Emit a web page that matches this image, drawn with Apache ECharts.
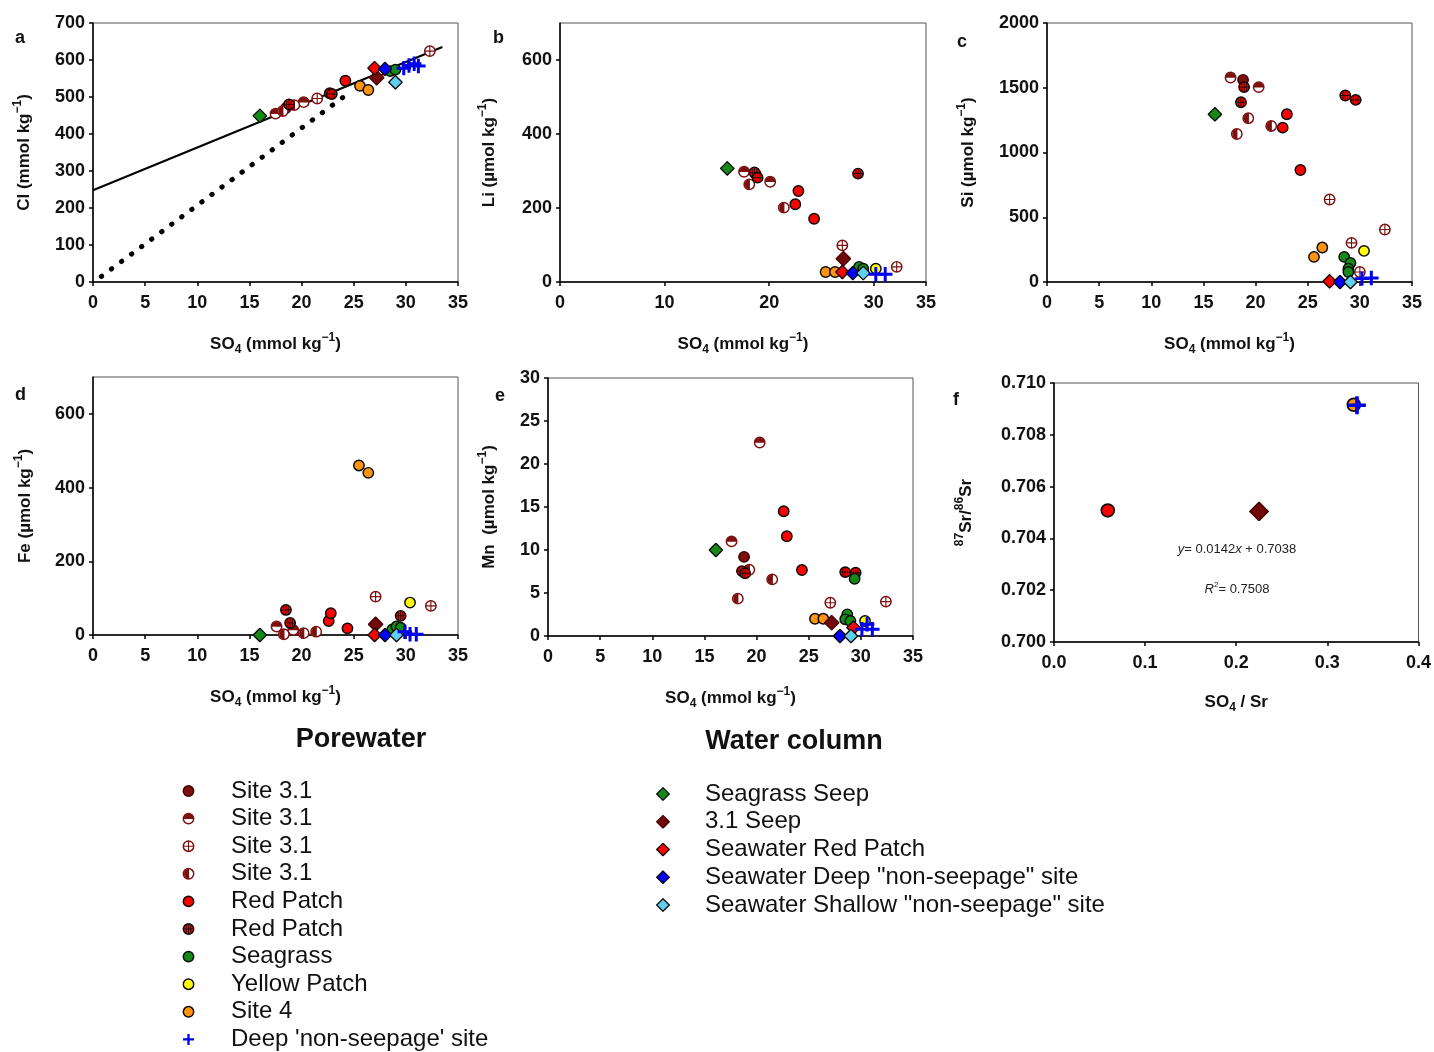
<!DOCTYPE html>
<html>
<head>
<meta charset="utf-8">
<script src="https://cdn.jsdelivr.net/npm/echarts/dist/echarts.min.js"></script>
<style>
html, body { margin: 0; padding: 0; background: #fff; }
#main { width: 1434px; height: 1052px; }
</style>
</head>
<body>
<div id="main"></div>
<script>
// ---- panel a : Cl vs SO4 (mmol/kg)
var clSite31 = [[18.5, 470]];
var clSite31Top = [[17.5, 455], [20.2, 486]];
var clSite31Cross = [[21.5, 496], [27.3, 560], [32.3, 624]];
var clSite31Left = [[18.2, 462], [19.3, 478]];
var clRedPatch = [[22.7, 510], [24.2, 544]];
var clRedPatchX = [[18.8, 480], [22.9, 508]];
var clSeagrass = [[28.5, 570], [29.0, 574]];
var clSite4 = [[25.6, 530], [26.4, 519]];
var clDeep = [[29.8, 578], [30.3, 585], [30.8, 590], [31.2, 584]];
var clSeagrassSeep = [[16.0, 449]];
var cl31Seep = [[27.2, 552]];
var clSwRedPatch = [[27.0, 578]];
var clSwDeep = [[28.0, 576]];
var clSwShallow = [[29.0, 540]];
var clMixLine = [[0, 248], [33.5, 635]];
var clDilutionLine = [[0.8, 15], [24.4, 508]];

// ---- panel b : Li vs SO4
var liSite31 = [[18.7, 292]];
var liSite31Top = [[17.6, 298], [20.1, 271]];
var liSite31Cross = [[27.0, 99], [32.2, 41]];
var liSite31Left = [[18.1, 264], [21.4, 201]];
var liRedPatch = [[22.8, 246], [22.5, 210], [24.3, 171]];
var liRedPatchX = [[18.6, 296], [18.9, 282], [28.5, 293]];
var liSeagrass = [[28.6, 41], [29.0, 36]];
var liYellow = [[30.2, 36]];
var liSite4 = [[25.4, 27], [26.3, 27]];
var liDeep = [[30.2, 21], [31.1, 21]];
var liSeagrassSeep = [[16.0, 307]];
var li31Seep = [[27.1, 63]];
var liSwRedPatch = [[27.0, 27]];
var liSwDeep = [[28.0, 24]];
var liSwShallow = [[29.0, 24]];

// ---- panel c : Si vs SO4
var siSite31 = [[18.8, 1561]];
var siSite31Top = [[17.6, 1579], [20.3, 1505]];
var siSite31Cross = [[27.1, 637], [32.4, 405], [29.2, 302], [30.0, 77]];
var siSite31Left = [[18.2, 1143], [19.3, 1265], [21.5, 1205]];
var siRedPatch = [[22.6, 1192], [23.0, 1295], [24.3, 865]];
var siRedPatchX = [[18.9, 1505], [18.6, 1388], [28.6, 1440], [29.6, 1406]];
var siSeagrass = [[28.5, 194], [29.1, 147], [28.9, 103], [28.9, 77]];
var siYellow = [[30.4, 240]];
var siSite4 = [[25.6, 194], [26.4, 266]];
var siDeep = [[30.2, 26], [31.1, 31]];
var siSeagrassSeep = [[16.1, 1295]];
var siSwRedPatch = [[27.1, 5]];
var siSwDeep = [[28.1, 0]];
var siSwShallow = [[29.1, 0]];

// ---- panel d : Fe vs SO4
var feSite31Top = [[17.6, 23], [19.2, 14]];
var feSite31Cross = [[27.1, 104], [32.4, 79]];
var feSite31Left = [[18.3, 2], [20.2, 5], [21.4, 9]];
var feRedPatch = [[22.6, 38], [22.8, 59], [24.4, 18]];
var feRedPatchX = [[18.5, 68], [18.9, 33], [29.5, 52]];
var feSeagrass = [[28.7, 15], [29.1, 23], [29.5, 20]];
var feYellow = [[30.4, 88]];
var feSite4 = [[25.5, 460], [26.4, 440]];
var feDeep = [[29.9, 9], [30.4, 2], [31.0, 2]];
var feSeagrassSeep = [[16.0, 0]];
var fe31Seep = [[27.1, 29]];
var feSwRedPatch = [[27.0, 0]];
var feSwDeep = [[28.0, 0]];
var feSwShallow = [[29.1, 0]];

// ---- panel e : Mn vs SO4
var mnSite31 = [[18.8, 9.2]];
var mnSite31Top = [[17.6, 11.0], [20.3, 22.5]];
var mnSite31Cross = [[27.07, 3.87], [32.4, 4.0]];
var mnSite31Left = [[19.3, 7.7], [18.2, 4.34], [21.5, 6.58]];
var mnRedPatch = [[22.6, 14.5], [22.9, 11.6], [24.35, 7.67]];
var mnRedPatchX = [[18.6, 7.55], [18.9, 7.3], [28.5, 7.43], [29.5, 7.36]];
var mnSeagrass = [[29.4, 6.66], [28.7, 2.52], [28.5, 1.94], [29.0, 1.74]];
var mnYellow = [[30.4, 1.74]];
var mnSite4 = [[25.6, 2.0], [26.4, 2.0]];
var mnDeep = [[30.1, 0.78], [31.1, 0.78], [30.6, 1.36]];
var mnSeagrassSeep = [[16.1, 10.0]];
var mn31Seep = [[27.2, 1.55]];
var mnSwRedPatch = [[29.3, 0.97]];
var mnSwDeep = [[28.0, 0]];
var mnSwShallow = [[29.05, 0]];

// ---- panel f : 87Sr/86Sr vs SO4/Sr
var srRedPatch = [[0.059, 0.70508]];
var srSite4 = [[0.329, 0.70916]];
var srDeep = [[0.3325, 0.70914]];
var sr31Seep = [[0.225, 0.70504]];

var legendLabels = {
    s31a: 'Site 3.1', s31b: 'Site 3.1', s31c: 'Site 3.1', s31d: 'Site 3.1',
    rp: 'Red Patch', rpx: 'Red Patch', sg: 'Seagrass', yp: 'Yellow Patch',
    s4: 'Site 4', deep: 'Deep \'non-seepage\' site',
    wSg: 'Seagrass Seep', w31: '3.1 Seep', wRp: 'Seawater Red Patch',
    wDeep: 'Seawater Deep "non-seepage" site', wShallow: 'Seawater Shallow "non-seepage" site'
};
var porewaterKeys = ['s31a', 's31b', 's31c', 's31d', 'rp', 'rpx', 'sg', 'yp', 's4', 'deep'];
var waterKeys = ['wSg', 'w31', 'wRp', 'wDeep', 'wShallow'];
var drawOrder = ['s31a', 's31b', 's31c', 's31d', 'rp', 'rpx', 'sg', 'yp', 's4',
    'wSg', 'w31', 'wRp', 'wDeep', 'wShallow', 'deep'];

var panelSets = [
    {s31a: clSite31, s31b: clSite31Top, s31c: clSite31Cross, s31d: clSite31Left, rp: clRedPatch, rpx: clRedPatchX,
        sg: clSeagrass, s4: clSite4, deep: clDeep, wSg: clSeagrassSeep, w31: cl31Seep, wRp: clSwRedPatch,
        wDeep: clSwDeep, wShallow: clSwShallow},
    {s31a: liSite31, s31b: liSite31Top, s31c: liSite31Cross, s31d: liSite31Left, rp: liRedPatch, rpx: liRedPatchX,
        sg: liSeagrass, yp: liYellow, s4: liSite4, deep: liDeep, wSg: liSeagrassSeep, w31: li31Seep, wRp: liSwRedPatch,
        wDeep: liSwDeep, wShallow: liSwShallow},
    {s31a: siSite31, s31b: siSite31Top, s31c: siSite31Cross, s31d: siSite31Left, rp: siRedPatch, rpx: siRedPatchX,
        sg: siSeagrass, yp: siYellow, s4: siSite4, deep: siDeep, wSg: siSeagrassSeep, wRp: siSwRedPatch,
        wDeep: siSwDeep, wShallow: siSwShallow},
    {s31b: feSite31Top, s31c: feSite31Cross, s31d: feSite31Left, rp: feRedPatch, rpx: feRedPatchX,
        sg: feSeagrass, yp: feYellow, s4: feSite4, deep: feDeep, wSg: feSeagrassSeep, w31: fe31Seep, wRp: feSwRedPatch,
        wDeep: feSwDeep, wShallow: feSwShallow},
    {s31a: mnSite31, s31b: mnSite31Top, s31c: mnSite31Cross, s31d: mnSite31Left, rp: mnRedPatch, rpx: mnRedPatchX,
        sg: mnSeagrass, yp: mnYellow, s4: mnSite4, deep: mnDeep, wSg: mnSeagrassSeep, w31: mn31Seep, wRp: mnSwRedPatch,
        wDeep: mnSwDeep, wShallow: mnSwShallow},
    {rp: srRedPatch, s4: srSite4, deep: srDeep, w31: sr31Seep}
];

// marker pictures
function svgSym(body) {
    return 'image://data:image/svg+xml;charset=utf-8,' + encodeURIComponent(
        '<svg xmlns="http://www.w3.org/2000/svg" width="40" height="40" viewBox="0 0 40 40">' + body + '</svg>');
}
var DR = '#7d0f0f';
function circ(fill, stroke) {
    return '<circle cx="20" cy="20" r="16" fill="' + fill + '" stroke="' + stroke + '" stroke-width="4.5"/>';
}
function ring(stroke) {
    return '<circle cx="20" cy="20" r="16" fill="none" stroke="' + stroke + '" stroke-width="4.5"/>';
}
function diamond(fill, stroke) {
    return svgSym('<polygon points="20,2 38,20 20,38 2,20" fill="' + fill + '" stroke="' + stroke + '" stroke-width="3.5"/>');
}
var symbols = {
    s31a: svgSym(circ(DR, '#3a0404')),
    s31b: svgSym('<circle cx="20" cy="20" r="16" fill="#fff"/><path d="M4 21 A16 16 0 0 1 36 21 Z" fill="' + DR + '"/>' + ring(DR)),
    s31c: svgSym(circ('#fff', DR) + '<path d="M20 4V36M4 20H36" stroke="' + DR + '" stroke-width="3.5"/>'),
    s31d: svgSym('<circle cx="20" cy="20" r="16" fill="#fff"/><path d="M22 4 A16 16 0 0 0 22 36 Z" fill="' + DR + '"/>' + ring(DR)),
    rp: svgSym(circ('#ff0000', '#0a0a0a')),
    rpx: svgSym(circ('#ff0000', '#0a0a0a') + '<path d="M20 5V35M5 20H35M13 8V32M27 8V32" stroke="#0a0a0a" stroke-width="2.5"/>'),
    sg: svgSym(circ('#168a16', '#0a0a0a')),
    yp: svgSym(circ('#ffff00', '#0a0a0a')),
    s4: svgSym(circ('#ff9410', '#0a0a0a')),
    deep: svgSym('<path d="M20 3V37M3 20H37" stroke="#0000ee" stroke-width="7"/>'),
    wSg: diamond('#168a16', '#0a0a0a'),
    w31: diamond('#730808', '#4a0404'),
    wRp: diamond('#ff0000', '#0a0a0a'),
    wDeep: diamond('#0000ff', '#0a0a0a'),
    wShallow: diamond('#5fd0f0', '#0a0a0a')
};
var symbolSizes = {s31a: 13, s31b: 13, s31c: 13, s31d: 13, rp: 13, rpx: 13, sg: 13, yp: 13, s4: 13,
    deep: 17, wSg: 15, w31: 16, wRp: 15, wDeep: 15, wShallow: 15};

var FONT = 'Liberation Sans, Arial, sans-serif';

var grids = [
    {left: 93, top: 23, width: 365, height: 259},
    {left: 560, top: 23, width: 366, height: 259},
    {left: 1047, top: 23, width: 365, height: 259},
    {left: 93, top: 377, width: 365, height: 258},
    {left: 548, top: 378, width: 365, height: 258},
    {left: 1054, top: 383, width: 366, height: 259}
];

var so4Name = 'SO{sub|4} (mmol kg{sup|\u22121})';
var xNames = [so4Name, so4Name, so4Name, so4Name, so4Name, 'SO{sub|4} / Sr'];
var yNames = ['Cl (mmol kg{sup|\u22121})', 'Li (\u00b5mol kg{sup|\u22121})', 'Si (\u00b5mol kg{sup|\u22121})',
    'Fe (\u00b5mol kg{sup|\u22121})', 'Mn  (\u00b5mol kg{sup|\u22121})', '{sup|87}Sr/{sup|86}Sr'];
var xRanges = [[0, 35, 5], [0, 35, 10], [0, 35, 5], [0, 35, 5], [0, 35, 5], [0, 0.4, 0.1]];
var yRanges = [[0, 700, 100], [0, 700, 200], [0, 2000, 500], [0, 700, 200], [0, 30, 5], [0.700, 0.710, 0.002]];
var yHideMax = [false, true, false, true, false, false];
var yNameGaps = [57, 59, 67, 56, 47, 76];
var panelLetters = ['a', 'b', 'c', 'd', 'e', 'f'];
var letterPos = [[15, 29], [493, 29], [957, 33], [15, 386], [495, 387], [953, 391]];

function axisBase() {
    return {
        nameLocation: 'middle',
        nameTextStyle: {
            fontFamily: FONT, fontSize: 17, fontWeight: 'bold', color: '#111', lineHeight: 24,
            rich: {
                sup: {fontFamily: FONT, fontSize: 12, fontWeight: 'bold', color: '#111', verticalAlign: 'top', lineHeight: 12},
                sub: {fontFamily: FONT, fontSize: 12, fontWeight: 'bold', color: '#111', verticalAlign: 'bottom', lineHeight: 12}
            }
        },
        axisLine: {onZero: false, lineStyle: {color: '#000', width: 1.5}},
        axisTick: {show: true, inside: false, length: 4, lineStyle: {color: '#000', width: 1.5}},
        axisLabel: {fontFamily: FONT, fontSize: 18, fontWeight: 'bold', color: '#111'},
        splitLine: {show: false}
    };
}

var xAxes = [], yAxes = [], series = [], titles = [];
grids.forEach(function (g, i) {
    g.show = true;
    g.borderColor = '#555';
    g.borderWidth = 1;
    var xa = axisBase();
    xa.type = 'value';
    xa.gridIndex = i;
    xa.min = xRanges[i][0]; xa.max = xRanges[i][1]; xa.interval = xRanges[i][2];
    xa.name = xNames[i];
    xa.nameGap = i === 5 ? 48 : 50;
    xa.axisLabel.margin = 12;
    xa.axisLabel.formatter = i === 5 ? function (v) { return v.toFixed(1); } : function (v) { return String(v); };
    xAxes.push(xa);
    var ya = axisBase();
    ya.type = 'value';
    ya.gridIndex = i;
    ya.min = yRanges[i][0]; ya.max = yRanges[i][1]; ya.interval = yRanges[i][2];
    ya.name = yNames[i];
    ya.nameGap = yNameGaps[i];
    ya.axisLabel.margin = 8;
    ya.axisLabel.formatter = i === 5 ? function (v) { return v.toFixed(3); } : function (v) { return String(v); };
    if (yHideMax[i]) ya.axisLabel.showMaxLabel = false;
    yAxes.push(ya);
    titles.push({
        text: panelLetters[i], left: letterPos[i][0], top: letterPos[i][1], padding: 0,
        textStyle: {fontFamily: FONT, fontSize: 18, fontWeight: 'bold', color: '#111'}
    });
    var scale = i === 5 ? 1.25 : 1;
    drawOrder.forEach(function (key) {
        var d = panelSets[i][key];
        if (!d) return;
        series.push({
            name: key,
            type: 'scatter',
            xAxisIndex: i,
            yAxisIndex: i,
            symbol: symbols[key],
            symbolSize: Math.round(symbolSizes[key] * scale),
            itemStyle: {opacity: 1},
            data: d,
            z: key === 'deep' ? 4 : 3
        });
    });
});

// lines in panel a
series.push({
    name: 'mix', type: 'line', xAxisIndex: 0, yAxisIndex: 0, data: clMixLine,
    symbol: 'none', lineStyle: {color: '#000', width: 2}, z: 2
});
series.push({
    name: 'dilution', type: 'line', xAxisIndex: 0, yAxisIndex: 0, data: clDilutionLine,
    symbol: 'none', lineStyle: {color: '#000', width: 5, type: [0.5, 12], cap: 'round'}, z: 2
});

titles.push({
    text: 'Porewater', left: 361, top: 726, textAlign: 'center', padding: 0,
    textStyle: {fontFamily: FONT, fontSize: 27, fontWeight: 'bold', color: '#111'}
});
titles.push({
    text: 'Water column', left: 794, top: 728, textAlign: 'center', padding: 0,
    textStyle: {fontFamily: FONT, fontSize: 27, fontWeight: 'bold', color: '#111'}
});

var legendText = {fontFamily: FONT, fontSize: 24, color: '#111', lineHeight: 24};

var option = {
    animation: false,
    backgroundColor: '#fff',
    title: titles,
    grid: grids,
    xAxis: xAxes,
    yAxis: yAxes,
    legend: [
        {
            data: porewaterKeys, orient: 'vertical', left: 182, top: 779, padding: 0,
            itemWidth: 13, itemHeight: 13, itemGap: 3.6, selectedMode: false,
            formatter: function (n) { return legendLabels[n]; },
            textStyle: Object.assign({padding: [0, 0, 0, 31]}, legendText)
        },
        {
            data: waterKeys, orient: 'vertical', left: 656, top: 782, padding: 0,
            itemWidth: 14, itemHeight: 14, itemGap: 3.75, selectedMode: false,
            formatter: function (n) { return legendLabels[n]; },
            textStyle: Object.assign({padding: [0, 0, 0, 30]}, legendText)
        }
    ],
    graphic: [
        {
            type: 'text', x: 1237, y: 549,
            style: {
                text: '{i|y}= 0.0142{i|x} + 0.7038', align: 'center', verticalAlign: 'middle',
                textAlign: 'center', textVerticalAlign: 'middle',
                fontFamily: FONT, fontSize: 13, fill: '#222',
                rich: {i: {fontStyle: 'italic', fontFamily: FONT, fontSize: 13, fill: '#222'}}
            }
        },
        {
            type: 'text', x: 1237, y: 589,
            style: {
                text: '{i|R}{s|2}= 0.7508', align: 'center', verticalAlign: 'middle',
                textAlign: 'center', textVerticalAlign: 'middle',
                fontFamily: FONT, fontSize: 13, fill: '#222', lineHeight: 16,
                rich: {
                    i: {fontStyle: 'italic', fontFamily: FONT, fontSize: 13, fill: '#222'},
                    s: {fontFamily: FONT, fontSize: 8, fill: '#222', verticalAlign: 'top', lineHeight: 8}
                }
            }
        }
    ],
    series: series
};

var myChart = echarts.init(document.getElementById('main'));
myChart.setOption(option);
window.onresize = myChart.resize;
</script>
</body>
</html>
